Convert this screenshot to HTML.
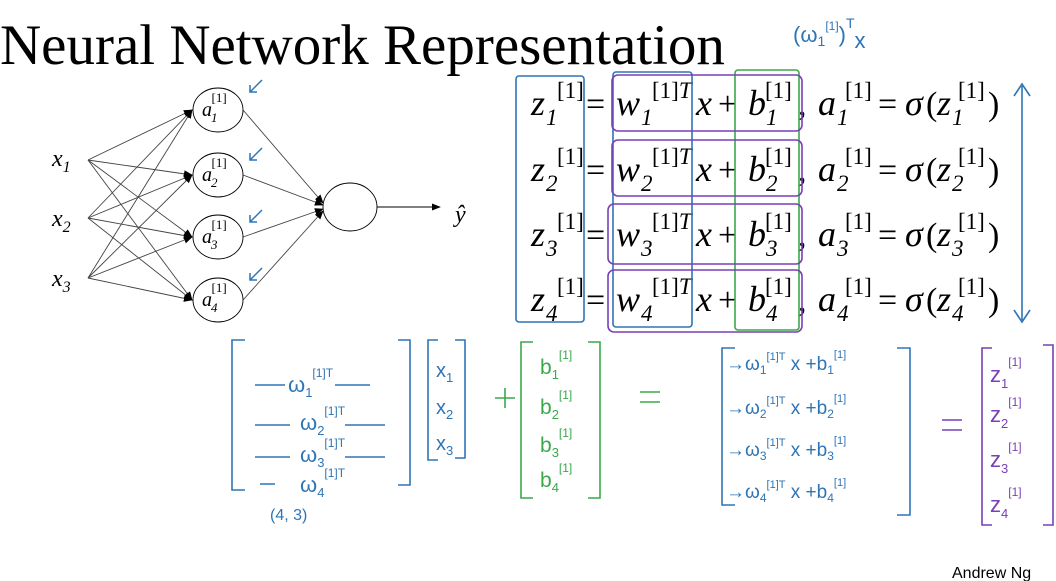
<!DOCTYPE html>
<html><head><meta charset="utf-8"><style>
html,body{margin:0;padding:0;background:#fff;}
svg{display:block}
.m{font-family:"Liberation Serif",serif;font-style:italic;fill:#000}
.r{font-family:"Liberation Serif",serif;font-style:normal;fill:#000}
.h{font-family:"Liberation Sans",sans-serif}
</style></head><body>
<svg width="1056" height="581" viewBox="0 0 1056 581" xmlns="http://www.w3.org/2000/svg">
<defs><marker id="a" markerWidth="10" markerHeight="10" refX="9" refY="5" orient="auto"><path d="M0,1 L10,5 L0,9 z" fill="#000"/></marker>
<g id="eq">
<text class="m" font-size="36" x="531" y="0">z</text>
<text class="r" font-size="23" x="557" y="-17">[1]</text>
<text class="r" font-size="34" x="586" y="0">=</text>
<text class="m" font-size="36" x="616" y="0">w</text>
<text class="r" font-size="23" x="652" y="-17">[1]<tspan class="m">T</tspan></text>
<text class="m" font-size="36" x="696" y="0">x</text>
<text class="r" font-size="34" x="718" y="0">+</text>
<text class="m" font-size="36" x="748" y="0">b</text>
<text class="r" font-size="23" x="765" y="-17">[1]</text>
<text class="r" font-size="34" x="798" y="0">,</text>
<text class="m" font-size="36" x="818" y="0">a</text>
<text class="r" font-size="23" x="845" y="-17">[1]</text>
<text class="r" font-size="34" x="878" y="0">=</text>
<text class="m" font-size="36" x="905" y="0">σ</text>
<text class="r" font-size="34" x="926" y="0">(</text>
<text class="m" font-size="36" x="937" y="0">z</text>
<text class="r" font-size="23" x="958" y="-17">[1]</text>
<text class="r" font-size="34" x="988" y="0">)</text>
</g>
</defs>
<text x="0" y="64" class="r" font-size="57">Neural Network Representation</text>
<text x="793" y="42" class="h" font-size="22" fill="#2e75b6">(ω<tspan font-size="14" dy="4">1</tspan><tspan font-size="12" dy="-16">[1]</tspan><tspan dy="12">)</tspan><tspan font-size="14" dy="-14">T</tspan><tspan dy="20" font-size="22">x</tspan></text>
<!-- network -->
<g stroke="#444" stroke-width="0.9" fill="none">
<line x1="88" y1="160" x2="192" y2="110" marker-end="url(#a)"/><line x1="88" y1="160" x2="192" y2="175" marker-end="url(#a)"/><line x1="88" y1="160" x2="192" y2="237" marker-end="url(#a)"/><line x1="88" y1="160" x2="192" y2="300" marker-end="url(#a)"/>
<line x1="88" y1="218" x2="192" y2="110" marker-end="url(#a)"/><line x1="88" y1="218" x2="192" y2="175" marker-end="url(#a)"/><line x1="88" y1="218" x2="192" y2="237" marker-end="url(#a)"/><line x1="88" y1="218" x2="192" y2="300" marker-end="url(#a)"/>
<line x1="88" y1="278" x2="192" y2="110" marker-end="url(#a)"/><line x1="88" y1="278" x2="192" y2="175" marker-end="url(#a)"/><line x1="88" y1="278" x2="192" y2="237" marker-end="url(#a)"/><line x1="88" y1="278" x2="192" y2="300" marker-end="url(#a)"/>
<line x1="243" y1="110" x2="323" y2="203" marker-end="url(#a)"/><line x1="243" y1="175" x2="323" y2="205" marker-end="url(#a)"/><line x1="243" y1="237" x2="323" y2="209" marker-end="url(#a)"/><line x1="243" y1="300" x2="323" y2="211" marker-end="url(#a)"/>
<line x1="377" y1="207" x2="440" y2="207" marker-end="url(#a)" stroke="#000"/>
<g stroke="#000" fill="#fff"><ellipse cx="218" cy="110" rx="25" ry="22"/><ellipse cx="218" cy="175" rx="25" ry="22"/><ellipse cx="218" cy="237" rx="25" ry="22"/><ellipse cx="218" cy="300" rx="25" ry="22"/><ellipse cx="350" cy="207" rx="27" ry="24"/></g>
</g>
<g class="m" font-size="24">
<text x="52" y="166">x<tspan font-size="16" dy="6">1</tspan></text>
<text x="52" y="226">x<tspan font-size="16" dy="6">2</tspan></text>
<text x="52" y="286">x<tspan font-size="16" dy="6">3</tspan></text>
<text x="455" y="222">ŷ</text>
</g>
<g class="m" font-size="20">
<text x="202" y="116">a<tspan font-size="13" dy="6" dx="-1">1</tspan><tspan font-size="13" dy="-20" dx="-6" class="r">[1]</tspan></text>
<text x="202" y="181">a<tspan font-size="13" dy="6" dx="-1">2</tspan><tspan font-size="13" dy="-20" dx="-6" class="r">[1]</tspan></text>
<text x="202" y="243">a<tspan font-size="13" dy="6" dx="-1">3</tspan><tspan font-size="13" dy="-20" dx="-6" class="r">[1]</tspan></text>
<text x="202" y="306">a<tspan font-size="13" dy="6" dx="-1">4</tspan><tspan font-size="13" dy="-20" dx="-6" class="r">[1]</tspan></text>
</g>
<g stroke="#2e75b6" stroke-width="1.5" fill="none">
<path d="M262,80 L250,92 M250,85 L250,92 L257,92"/><path d="M262,148 L250,160 M250,153 L250,160 L257,160"/><path d="M262,210 L250,222 M250,215 L250,222 L257,222"/><path d="M262,268 L250,280 M250,273 L250,280 L257,280"/>
</g>
<!-- equations -->
<use href="#eq" transform="translate(0,115)"/>
<use href="#eq" transform="translate(0,181)"/>
<use href="#eq" transform="translate(0,246)"/>
<use href="#eq" transform="translate(0,311)"/>
<g class="m" font-size="23">
<text x="546" y="125">1</text><text x="546" y="191">2</text><text x="546" y="256">3</text><text x="546" y="321">4</text>
<text x="641" y="125">1</text><text x="641" y="191">2</text><text x="641" y="256">3</text><text x="641" y="321">4</text>
<text x="766" y="125">1</text><text x="766" y="191">2</text><text x="766" y="256">3</text><text x="766" y="321">4</text>
<text x="837" y="125">1</text><text x="837" y="191">2</text><text x="837" y="256">3</text><text x="837" y="321">4</text>
<text x="952" y="125">1</text><text x="952" y="191">2</text><text x="952" y="256">3</text><text x="952" y="321">4</text>
</g>
<g fill="none" stroke-width="1.6">
<rect x="516" y="76" width="68" height="246" stroke="#2e75b6" rx="3"/>
<rect x="613" y="72" width="79" height="255" stroke="#2e75b6" rx="3"/>
<rect x="735" y="70" width="64" height="260" stroke="#3aa84a" rx="3"/>
<g stroke="#7a3fb5"><rect x="612" y="75" width="190" height="56" rx="6"/><rect x="612" y="140" width="190" height="56" rx="6"/><rect x="608" y="204" width="194" height="60" rx="6"/><rect x="608" y="270" width="194" height="62" rx="6"/></g>
<g stroke="#2e75b6"><line x1="1022" y1="86" x2="1022" y2="320"/><path d="M1014,96 L1022,84 L1030,96 M1014,310 L1022,322 L1030,310"/></g>
<!-- bottom brackets -->
<g stroke="#2e75b6"><path d="M245,340 L232,340 L232,490 L245,490 M398,340 L410,340 L410,485 L398,485"/><path d="M438,340 L428,340 L428,460 L438,460 M455,340 L465,340 L465,458 L455,458"/>
<path d="M255,385 L285,385 M335,385 L370,385 M255,425 L290,425 M345,425 L385,425 M255,457 L290,457 M345,457 L385,457 M260,484 L275,484"/>
<path d="M735,348 L722,348 L722,505 L735,505 M897,348 L910,348 L910,515 L897,515"/></g>
<g stroke="#3aa84a"><path d="M533,342 L521,342 L521,498 L533,498 M588,342 L600,342 L600,498 L588,498 M495,398 L515,398 M505,388 L505,408"/><path d="M640,392 L660,392 M640,402 L660,402"/></g>
<g stroke="#7a3fb5"><path d="M942,420 L962,420 M942,430 L962,430"/><path d="M992,348 L982,348 L982,525 L992,525 M1043,345 L1053,345 L1053,525 L1043,525"/></g>
</g>
<g class="h" fill="#2e75b6" font-size="22">
<text x="288" y="392">ω<tspan font-size="13" dy="5">1</tspan><tspan font-size="12" dy="-20">[1]T</tspan></text>
<text x="300" y="430">ω<tspan font-size="13" dy="5">2</tspan><tspan font-size="12" dy="-20">[1]T</tspan></text>
<text x="300" y="462">ω<tspan font-size="13" dy="5">3</tspan><tspan font-size="12" dy="-20">[1]T</tspan></text>
<text x="300" y="492">ω<tspan font-size="13" dy="5">4</tspan><tspan font-size="12" dy="-20">[1]T</tspan></text>
<text x="270" y="520" font-size="16">(4, 3)</text>
<text x="436" y="377" font-size="20">x<tspan font-size="13" dy="5">1</tspan></text><text x="436" y="414" font-size="20">x<tspan font-size="13" dy="5">2</tspan></text><text x="436" y="450" font-size="20">x<tspan font-size="13" dy="5">3</tspan></text>
<text x="726" y="370" font-size="19">→ω<tspan font-size="12" dy="4">1</tspan><tspan font-size="11" dy="-14">[1]T</tspan><tspan dy="10"> x  +b</tspan><tspan font-size="12" dy="4">1</tspan><tspan font-size="11" dy="-16">[1]</tspan></text>
<text x="726" y="414" font-size="19">→ω<tspan font-size="12" dy="4">2</tspan><tspan font-size="11" dy="-14">[1]T</tspan><tspan dy="10"> x  +b</tspan><tspan font-size="12" dy="4">2</tspan><tspan font-size="11" dy="-16">[1]</tspan></text>
<text x="726" y="456" font-size="19">→ω<tspan font-size="12" dy="4">3</tspan><tspan font-size="11" dy="-14">[1]T</tspan><tspan dy="10"> x  +b</tspan><tspan font-size="12" dy="4">3</tspan><tspan font-size="11" dy="-16">[1]</tspan></text>
<text x="726" y="498" font-size="19">→ω<tspan font-size="12" dy="4">4</tspan><tspan font-size="11" dy="-14">[1]T</tspan><tspan dy="10"> x  +b</tspan><tspan font-size="12" dy="4">4</tspan><tspan font-size="11" dy="-16">[1]</tspan></text>
</g>
<g class="h" fill="#3aa84a" font-size="21">
<text x="540" y="374">b<tspan font-size="13" dy="5">1</tspan><tspan font-size="12" dy="-20">[1]</tspan></text>
<text x="540" y="414">b<tspan font-size="13" dy="5">2</tspan><tspan font-size="12" dy="-20">[1]</tspan></text>
<text x="540" y="452">b<tspan font-size="13" dy="5">3</tspan><tspan font-size="12" dy="-20">[1]</tspan></text>
<text x="540" y="487">b<tspan font-size="13" dy="5">4</tspan><tspan font-size="12" dy="-20">[1]</tspan></text>
</g>
<g class="h" fill="#7a3fb5" font-size="22">
<text x="990" y="382">z<tspan font-size="13" dy="6">1</tspan><tspan font-size="12" dy="-22">[1]</tspan></text>
<text x="990" y="422">z<tspan font-size="13" dy="6">2</tspan><tspan font-size="12" dy="-22">[1]</tspan></text>
<text x="990" y="467">z<tspan font-size="13" dy="6">3</tspan><tspan font-size="12" dy="-22">[1]</tspan></text>
<text x="990" y="512">z<tspan font-size="13" dy="6">4</tspan><tspan font-size="12" dy="-22">[1]</tspan></text>
</g>
<text x="952" y="578" class="h" font-size="16" fill="#000">Andrew Ng</text>
</svg>
</body></html>
